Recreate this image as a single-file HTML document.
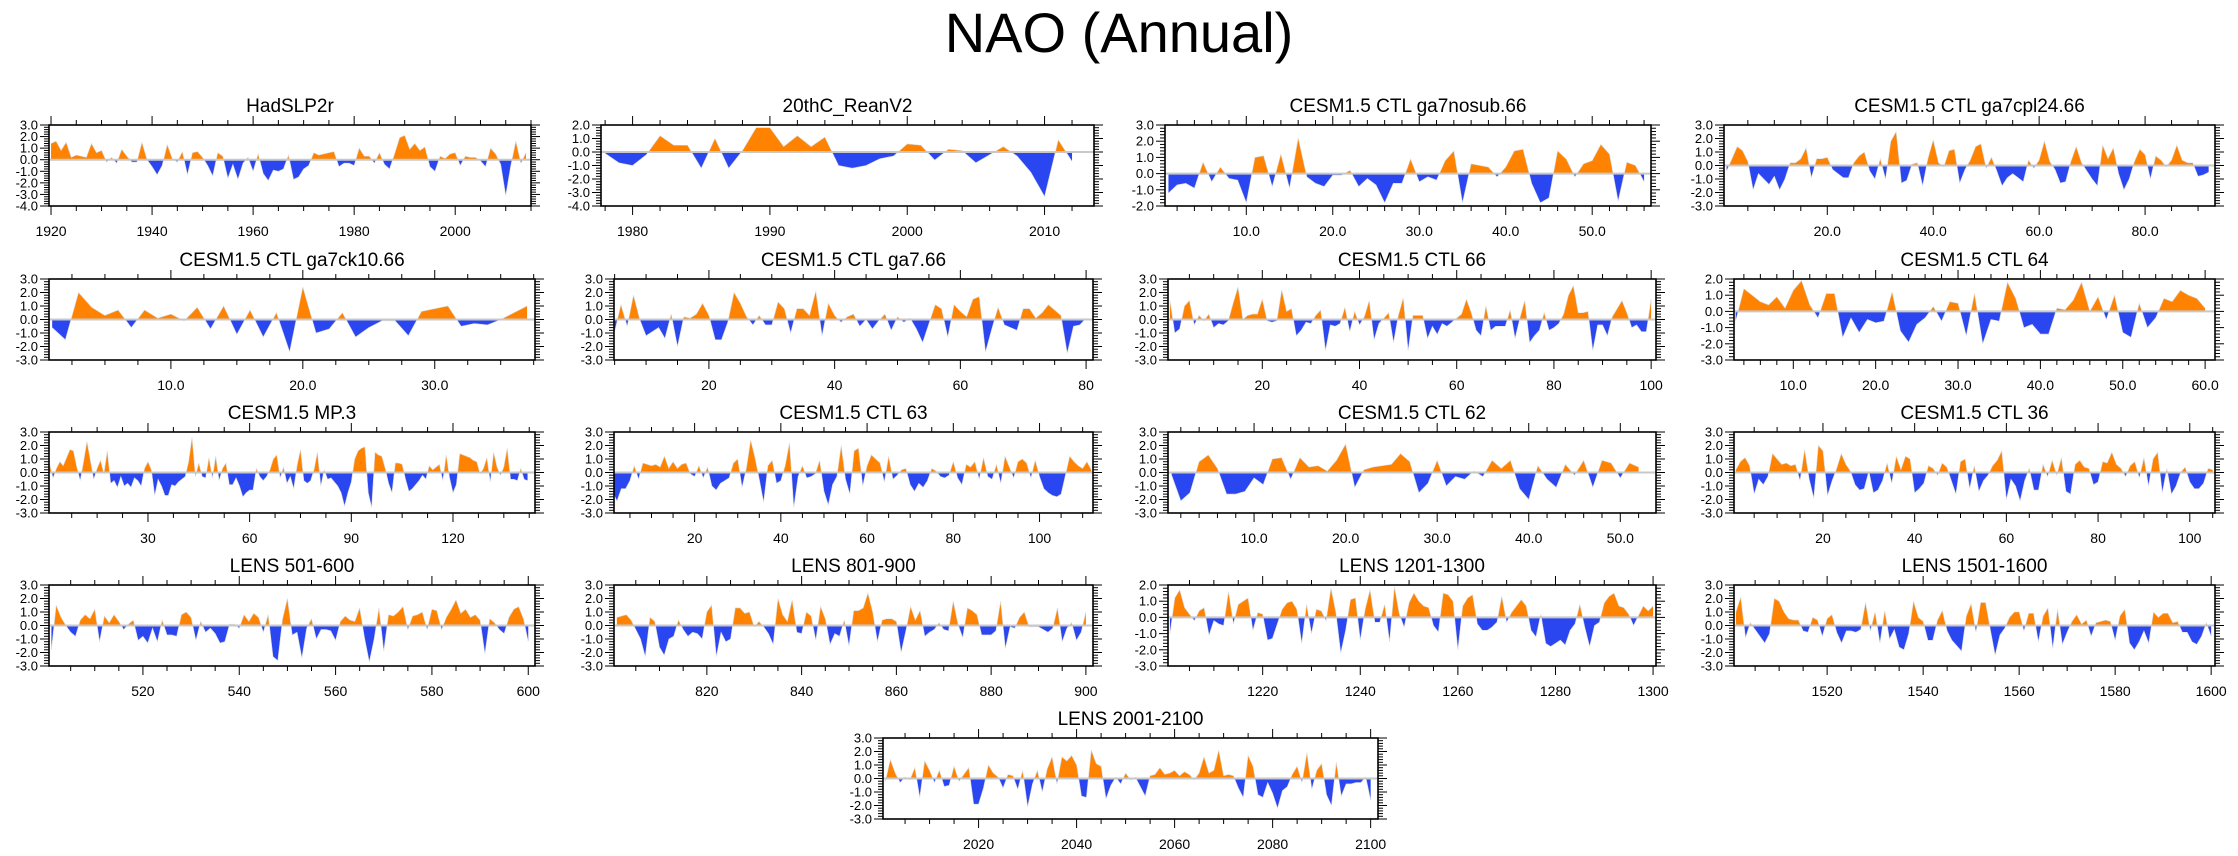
<!DOCTYPE html>
<html>
<head>
<meta charset="utf-8">
<style>
html,body{margin:0;padding:0;background:#fff;}
svg{display:block;font-family:"Liberation Sans",Arial,sans-serif;}
</style>
</head>
<body>
<svg id="chart" width="2238" height="856" viewBox="0 0 2238 856" xmlns="http://www.w3.org/2000/svg">
<rect x="0" y="0" width="2238" height="856" fill="#fff"/>
<text x="1119" y="52" text-anchor="middle" font-size="56" fill="#000">NAO (Annual)</text>
</svg>
<script>
// ---- data ----
const hadslp2rStart = 1920;
const hadslp2rValues = [1.4,1.6,0.8,1.5,0.2,0.4,0.3,0.2,1.4,0.6,0.8,-0.2,0.2,-0.3,0.9,0.3,-0.2,-0.2,1.5,0.0,-0.6,-1.3,-0.5,1.3,0.1,-0.2,0.7,-1.3,0.6,0.7,0.2,-0.5,-1.4,0.6,0.3,-1.6,-0.4,-1.7,-0.3,0.2,-1.0,0.5,-1.2,-1.8,-0.9,-1.0,-0.8,0.4,-1.7,-1.5,-0.8,-0.5,0.6,0.4,0.5,0.6,0.7,-0.6,-0.3,-0.3,-0.5,1.0,0.3,0.3,-0.3,0.6,-0.4,-0.8,0.5,1.9,2.1,0.9,1.4,0.8,1.1,-0.6,-1.0,0.3,0.1,0.5,0.6,-0.5,0.3,0.2,0.2,-0.1,-0.6,1.0,0.5,-0.4,-3.1,-0.5,1.6,-0.3,0.6];
const reanStart = 1978;
const reanValues = [-0.1,-0.8,-1.0,-0.2,1.2,0.5,0.5,-1.2,1.0,-1.2,0.1,1.8,1.8,0.4,1.2,0.4,1.1,-1.0,-1.2,-1.0,-0.5,-0.3,0.6,0.5,-0.6,0.2,0.1,-0.8,-0.2,0.4,-0.3,-1.5,-3.3,0.9,-0.7];
const nosubStart = 1;
const nosubValues = [-1.2,-0.7,-0.6,-0.9,0.7,-0.5,0.4,-0.3,-0.4,-1.8,1.0,1.1,-0.8,1.2,-0.9,2.2,-0.2,-0.6,-0.8,-0.1,-0.1,0.2,-0.8,-0.3,-0.7,-1.8,-0.6,-0.6,0.9,-0.5,-0.2,-0.4,0.8,1.4,-1.8,0.6,0.5,0.4,-0.2,0.4,1.4,1.5,-0.6,-1.8,-1.5,1.4,0.9,-0.2,0.6,0.8,1.8,1.2,-1.7,0.7,0.5,-0.5];
const cpl24Start = 1;
const cpl24Values = [-0.4,0.5,1.4,1.1,0.3,-1.8,-0.6,-1.0,-1.4,-0.8,-1.8,-1.0,0.2,0.2,0.5,1.3,-0.9,0.5,0.5,0.6,-0.3,-0.6,-0.9,-0.9,0.2,0.7,1.0,-0.4,-1.0,0.5,-1.0,1.8,2.5,-1.3,-1.1,0.1,0.2,-1.5,0.5,1.9,0.2,-0.1,1.1,1.2,-1.3,-0.3,0.4,1.4,1.6,-0.2,0.6,-0.4,-1.5,-0.9,-0.6,-0.9,-1.2,0.4,-0.2,0.4,1.8,0.3,-0.3,-1.3,-1.2,0.3,1.4,0.2,-0.4,-1.0,-1.5,1.5,0.5,1.3,-0.6,-1.8,-1.0,0.3,1.2,0.8,-1.0,0.7,0.4,-0.1,0.4,1.5,0.4,0.2,0.2,-0.8,-0.7,-0.5];
const ck10Start = 1;
const ck10Values = [-0.6,-1.5,2.0,0.9,0.3,0.7,-0.6,0.7,0.1,0.4,-0.1,0.9,-0.7,1.0,-1.1,0.7,-1.3,0.5,-2.4,2.4,-1.0,-0.7,0.5,-1.3,-0.6,-0.1,-0.1,-1.2,0.6,0.8,1.0,-0.5,-0.3,-0.4,0.0,0.5,1.0];
const ga7Start = 5;
const ga7Values = [-0.9,1.1,-0.5,1.8,0.0,-1.2,-0.9,-0.6,-1.4,0.4,-2.0,0.2,0.1,0.4,1.2,0.3,-1.5,-1.5,-0.2,2.0,1.2,0.2,-0.4,0.3,-0.4,-0.4,1.3,0.8,-1.0,0.8,0.8,0.3,2.1,-1.2,1.2,0.3,-0.2,0.2,0.4,-0.5,0.0,-0.7,-0.1,0.4,-0.8,0.2,-0.2,0.1,-0.7,-1.7,-0.3,1.1,0.8,-1.3,1.1,0.6,0.2,1.5,1.7,-2.4,-0.7,0.9,-0.4,-0.6,-0.8,0.8,0.8,0.1,0.5,1.1,0.7,0.3,-2.5,-0.5,-0.4,0.1];
const ctl66Start = 1;
const ctl66Values = [1.4,-1.0,-0.7,1.0,1.4,-0.4,0.3,-0.1,0.4,-0.6,-0.3,-0.4,-0.1,1.2,2.4,0.0,0.3,0.4,0.4,1.5,-0.1,-0.2,-0.1,2.2,0.6,0.8,-1.2,-0.8,-0.2,-0.3,0.3,0.7,-2.3,-0.4,-0.5,-0.3,0.9,-0.9,0.6,-0.4,0.2,1.4,-1.5,-0.3,0.1,0.5,-1.7,0.3,1.6,-2.3,0.3,0.3,0.3,-1.4,-0.5,-1.1,-0.3,-0.5,-0.2,0.1,0.4,1.5,0.5,-0.8,-1.2,1.0,-0.8,-0.5,-0.5,-0.5,0.7,-1.4,0.1,1.4,-1.7,-1.2,-0.8,0.5,-0.8,-0.6,-0.3,0.4,1.8,2.5,0.5,0.5,0.6,-2.3,-0.4,-0.4,-1.2,0.2,0.8,1.4,0.5,-0.6,-0.4,-0.9,-0.9,1.5];
const ctl64Start = 3;
const ctl64Values = [-0.6,1.4,1.0,0.6,0.4,0.9,0.2,1.3,1.9,0.4,-0.4,1.1,1.1,-1.6,-0.4,-1.3,-0.5,-0.7,-0.6,1.2,-1.2,-1.9,-0.8,-0.4,0.3,-0.6,0.6,0.5,-1.5,1.1,-2.0,-0.5,-0.6,1.8,0.8,-1.0,-0.8,-1.4,-1.4,0.2,0.1,0.7,1.8,0.0,0.9,-0.5,1.0,-1.3,-1.6,0.5,-1.0,-0.4,0.8,0.6,1.3,1.0,0.8,0.2];
const mp3Start = 1;
const mp3Values = [0.6,-0.4,0.3,0.8,0.5,1.1,1.7,1.6,0.4,-0.6,0.8,2.3,0.9,-0.5,0.3,0.9,-0.1,1.6,-0.8,-0.6,-1.1,-0.3,-1.0,-0.8,-1.1,-0.4,-0.6,-1.0,0.3,0.8,0.2,-1.7,-0.5,-1.0,-1.7,-1.7,-0.9,-1.0,-0.7,-0.5,-0.3,0.8,2.6,-0.3,0.7,-0.3,-0.4,1.1,-0.4,1.2,-0.6,0.3,0.7,-0.9,-0.9,-0.4,-1.0,-1.8,-1.5,-1.3,-1.3,0.3,-0.3,-0.6,-0.3,0.2,1.0,1.3,-0.4,0.4,-0.8,-0.3,-1.2,0.5,1.7,-0.6,-0.8,-0.6,0.2,1.5,-1.0,0.2,-0.5,-0.4,-0.7,-1.0,-1.5,-2.5,-1.5,-0.7,1.0,1.6,1.8,1.9,-1.5,-2.6,1.5,1.3,1.2,0.3,-0.8,-1.5,0.7,0.7,0.6,-0.5,-1.4,-1.2,-0.9,-0.6,-0.2,-0.5,0.5,0.2,0.4,0.6,-0.6,1.3,-0.4,-1.5,-0.9,1.4,1.3,1.2,1.1,0.9,0.8,-0.1,0.3,1.1,-0.7,1.5,0.4,-0.2,0.4,1.8,-0.5,-0.5,-0.6,0.3,-0.5,-0.6];
const ctl63Start = 1;
const ctl63Values = [-1.5,-2.1,-1.2,-1.2,-0.6,0.5,-0.5,0.7,0.6,0.5,0.6,0.4,1.2,0.3,0.8,0.3,0.6,0.7,-0.1,-0.3,0.5,-0.4,0.4,-1.0,-1.3,-0.8,-0.6,-0.4,0.7,1.0,-1.1,0.3,2.4,1.1,-0.5,-2.2,0.5,0.9,-0.8,-0.6,0.5,2.2,-2.6,-0.3,0.5,-0.4,-0.3,-0.1,0.9,-1.4,-2.4,-0.9,-0.3,2.0,-0.5,-1.6,1.6,1.8,-1.0,0.5,1.3,1.0,0.7,-0.7,1.2,-0.5,-0.2,0.2,0.3,-0.9,-1.4,-0.8,-1.1,-0.6,0.3,0.1,-0.3,-0.4,-0.2,0.8,-0.4,-0.9,0.6,0.4,0.8,-0.5,1.1,-0.3,-0.5,0.6,-0.8,1.2,0.4,-0.4,0.8,1.0,0.7,-0.4,0.9,-0.3,-1.2,-1.5,-1.7,-1.8,-1.6,-0.2,1.2,0.8,0.5,0.3,0.8,0.2];
const ctl62Start = 1;
const ctl62Values = [-0.2,-2.1,-1.5,0.8,1.3,0.3,-1.6,-1.6,-1.4,-0.4,-0.9,1.0,1.1,-0.5,1.1,0.4,0.5,0.1,0.9,2.1,-1.1,0.2,0.4,0.5,0.6,1.4,0.8,-1.5,-0.8,0.9,-1.0,-0.3,-0.5,0.1,-0.3,0.9,0.3,0.9,-1.2,-2.0,0.5,-0.5,-1.1,0.6,-0.2,0.9,-1.1,0.9,0.7,-0.4,0.7,0.4];
const ctl36Start = 1;
const ctl36Values = [0.2,0.8,1.1,0.5,-1.6,-0.5,-0.9,-0.3,1.4,1.0,0.6,0.7,0.5,0.6,-0.6,1.7,-0.5,-1.9,2.0,1.6,-1.7,-0.6,0.3,1.4,0.6,0.1,-0.9,-1.3,-1.2,0.1,-1.5,-1.3,-0.6,0.7,-0.8,1.2,0.2,1.2,1.0,-1.5,-1.2,-0.8,0.5,0.3,-0.2,0.7,0.4,-0.6,-1.6,0.8,1.0,-1.2,0.5,-1.4,-0.6,-0.2,0.5,0.9,1.6,-2.0,-0.5,-1.0,-2.1,-0.6,0.3,-1.3,-1.3,0.6,-0.3,0.9,-0.2,1.1,-1.4,-1.6,0.6,0.9,0.4,0.3,-0.9,-0.7,0.8,0.7,1.5,0.6,0.3,-0.3,0.5,0.8,-0.4,1.1,-1.0,1.0,1.5,-1.5,0.3,-1.6,-1.0,0.0,0.4,-0.7,-1.2,-1.2,-0.8,0.3,0.2];
const lens501Start = 501;
const lens501Values = [-1.8,1.5,0.6,0.0,-0.5,-0.8,0.4,0.8,0.5,1.2,-1.2,0.7,0.2,0.8,0.3,-0.3,0.1,0.4,-1.1,-0.8,-1.3,-0.2,-1.2,0.4,-0.7,-0.7,-0.8,0.8,1.0,0.6,-1.1,0.3,-0.5,-0.2,-0.6,-1.3,-1.2,0.1,0.1,-0.2,0.8,0.3,0.9,0.6,-0.5,0.8,-2.3,-2.6,0.5,2.0,-0.7,-0.5,-2.4,-0.2,0.5,-1.0,-0.3,-0.3,-0.4,-1.1,0.3,0.7,0.4,0.3,1.3,-0.9,-2.7,-1.0,1.3,-1.9,0.8,0.7,1.0,1.4,-0.3,0.7,0.8,1.0,-0.3,1.2,1.1,-0.3,0.6,1.2,1.9,0.9,1.2,0.6,0.8,0.4,-2.1,0.5,0.2,-0.3,-0.6,0.6,1.2,1.4,0.5,-1.2];
const lens801Start = 801;
const lens801Values = [0.6,0.7,0.8,0.4,-0.3,-1.0,-2.3,0.6,0.3,-1.6,-2.2,-1.0,-0.8,0.4,-0.3,-0.8,-0.5,-0.6,-1.0,1.0,1.5,-2.3,-0.5,-1.2,-1.0,1.3,1.3,0.9,1.0,-0.1,0.3,-0.1,-0.6,-1.4,2.0,0.8,0.3,1.9,-0.5,-0.6,1.0,0.7,-1.1,1.4,0.5,-1.4,-0.6,-0.8,0.4,-1.5,1.1,1.1,1.3,2.4,1.0,-1.2,0.4,0.5,0.5,0.3,-2.0,-0.4,1.4,0.4,1.1,-0.8,-0.5,-0.3,0.2,-0.3,-0.4,1.8,0.1,-0.9,1.3,1.1,0.8,-0.7,-0.7,-0.7,-0.4,1.8,-1.7,-0.1,-0.2,0.6,1.0,-0.1,-0.1,-0.1,-0.3,-0.5,-0.2,1.3,-1.2,-0.2,0.2,-1.1,-0.5,1.0];
const lens1201Start = 1201;
const lens1201Values = [-1.0,1.2,1.7,0.6,0.2,-0.2,0.4,0.6,-1.1,-0.2,-0.4,-0.5,1.6,-0.4,0.8,1.0,1.2,-0.8,0.3,0.2,-1.4,-1.3,-0.4,0.5,0.9,1.0,0.5,-1.6,0.8,-1.0,0.5,0.4,-0.2,1.8,0.3,-2.2,-0.8,1.1,1.2,-1.4,0.5,1.7,-0.3,-0.3,0.8,-1.5,1.9,0.2,-0.6,0.9,1.5,1.0,0.7,0.6,-0.5,-0.9,1.5,1.4,1.0,-2.0,0.7,1.2,1.4,-0.4,-0.8,-0.8,-0.6,-0.3,1.3,-0.3,0.3,0.7,1.1,0.7,-0.8,-1.2,0.2,-1.6,-1.8,-1.6,-1.4,-1.7,-0.8,-0.4,0.8,-0.6,-1.8,-0.5,-0.3,0.9,1.3,1.5,0.7,0.6,0.2,-0.5,0.1,0.7,0.4,0.7];
const lens1501Start = 1501;
const lens1501Values = [1.0,2.1,-0.9,0.2,-0.3,-0.8,-1.3,-0.6,2.0,1.8,1.0,0.5,0.4,0.4,-0.4,-0.5,0.6,0.4,-0.8,0.5,0.8,-0.5,-1.3,-0.4,-0.4,-0.5,-0.3,1.7,-0.4,1.0,-1.3,1.1,-1.0,-0.3,-1.6,-1.8,-0.6,1.8,0.6,0.3,-1.1,-1.1,0.4,1.1,-0.4,-1.1,-1.5,-1.9,0.7,1.6,-0.5,1.7,1.7,-0.3,-2.2,-0.7,-0.2,0.6,1.0,1.0,-0.4,0.9,0.9,-1.2,0.7,1.3,-1.7,1.2,-1.4,-0.5,0.3,0.8,0.1,0.4,-0.8,0.2,0.3,0.4,0.3,-1.1,0.7,1.2,-1.3,-1.8,-1.2,-0.4,-1.3,1.0,0.6,0.9,0.9,0.2,0.3,-0.5,-0.5,-1.2,-1.4,-0.8,0.2,-0.8];
const lens2001Start = 2001;
const lens2001Values = [-0.2,1.4,0.4,-0.3,0.1,-0.1,0.8,-1.4,1.3,0.6,-0.3,0.6,-0.6,-0.5,0.9,-0.2,0.3,0.8,-1.9,-1.9,-0.7,1.0,0.4,0.1,-0.7,0.3,0.2,-0.8,0.6,-2.1,-0.4,0.6,-1.0,0.7,1.6,-0.4,1.6,1.3,1.7,1.0,-1.3,-1.4,2.1,1.1,0.9,-1.5,-0.5,0.1,-0.4,0.4,-0.1,0.1,-0.6,-1.3,0.2,0.3,0.8,0.3,0.4,0.6,0.2,0.5,0.3,-0.1,0.4,1.6,0.4,0.6,2.1,0.2,0.3,0.2,-0.7,-1.4,1.7,0.9,-1.2,-1.4,-0.3,-1.1,-2.2,-0.9,-0.6,0.3,0.9,-0.3,1.9,-0.8,0.6,1.1,-1.2,-2.0,1.2,-1.3,-0.4,-0.4,-0.3,-0.3,0.1,-1.6];

const panelTitles = ["HadSLP2r","20thC_ReanV2","CESM1.5 CTL ga7nosub.66","CESM1.5 CTL ga7cpl24.66","CESM1.5 CTL ga7ck10.66","CESM1.5 CTL ga7.66","CESM1.5 CTL 66","CESM1.5 CTL 64","CESM1.5 MP.3","CESM1.5 CTL 63","CESM1.5 CTL 62","CESM1.5 CTL 36","LENS 501-600","LENS 801-900","LENS 1201-1300","LENS 1501-1600","LENS 2001-2100"];
const panelStarts = [hadslp2rStart,reanStart,nosubStart,cpl24Start,ck10Start,ga7Start,ctl66Start,ctl64Start,mp3Start,ctl63Start,ctl62Start,ctl36Start,lens501Start,lens801Start,lens1201Start,lens1501Start,lens2001Start];
const panelValues = [hadslp2rValues,reanValues,nosubValues,cpl24Values,ck10Values,ga7Values,ctl66Values,ctl64Values,mp3Values,ctl63Values,ctl62Values,ctl36Values,lens501Values,lens801Values,lens1201Values,lens1501Values,lens2001Values];
const xMajorSteps = [20,10,10,20,10,20,20,10,30,20,10,20,20,20,20,20,20];
const xMinorSteps = [5,2,2,5,2.5,5,5,2,7.5,5,2,5,5,5,5,5,5];
const xLabelDecimals = [0,0,1,1,1,0,0,1,0,0,1,0,0,0,0,0,0];
const yMins = [-4,-4,-2,-3,-3,-3,-3,-3,-3,-3,-3,-3,-3,-3,-3,-3,-3];
const yMaxs = [3,2,3,3,3,3,3,2,3,3,3,3,3,3,2,3,3];

// ---- layout (pixels / axis extents) ----
const layout = [
 {l:49,r:531,t:125,d0:1919.6,d1:2015},
 {l:601,r:1094,t:125,d0:1977.7,d1:2013.6},
 {l:1165,r:1651,t:125,d0:0.6,d1:56.8},
 {l:1724,r:2215,t:125,d0:0.5,d1:93.2},
 {l:49,r:535,t:279,d0:0.76,d1:37.6},
 {l:614,r:1093,t:279,d0:4.9,d1:81.1},
 {l:1168,r:1656,t:279,d0:0.6,d1:101},
 {l:1734,r:2215,t:279,d0:2.8,d1:61.2},
 {l:49,r:535,t:432,d0:0.8,d1:144.2},
 {l:614,r:1093,t:432,d0:1.3,d1:112.4},
 {l:1168,r:1656,t:432,d0:0.6,d1:53.9},
 {l:1734,r:2215,t:432,d0:0.6,d1:105.5},
 {l:49,r:535,t:585,d0:500.5,d1:601.4},
 {l:614,r:1093,t:585,d0:800.4,d1:901.5},
 {l:1168,r:1656,t:585,d0:1200.6,d1:1300.6},
 {l:1734,r:2215,t:585,d0:1500.6,d1:1600.8},
 {l:883,r:1378,t:738,d0:2000.5,d1:2101.5}
];
const PH = 81;
const NS = "http://www.w3.org/2000/svg";
const svg = document.getElementById('chart');
const defs = document.createElementNS(NS,'defs');
svg.appendChild(defs);

function mk(tag, attrs, parent){
  const el = document.createElementNS(NS, tag);
  for (const k in attrs) el.setAttribute(k, attrs[k]);
  parent.appendChild(el);
  return el;
}
function slug(s){return s.toLowerCase().replace(/[^a-z0-9]+/g,'-').replace(/^-|-$/g,'');}

panelTitles.forEach((title, i) => {
  const L = layout[i];
  const ymin = yMins[i], ymax = yMaxs[i];
  const xs = v => L.l + (v - L.d0) / (L.d1 - L.d0) * (L.r - L.l);
  const ys = v => L.t + (ymax - v) / (ymax - ymin) * PH;
  const bottom = L.t + PH;
  const z = ys(0);
  const name = slug(title);

  const g = mk('g', {}, svg);
  
  

  const cpA = mk('clipPath', {id:'ca'+i}, defs);
  mk('rect', {x:L.l, y:L.t, width:L.r-L.l, height:z-L.t}, cpA);
  const cpB = mk('clipPath', {id:'cb'+i}, defs);
  mk('rect', {x:L.l, y:z, width:L.r-L.l, height:bottom-z}, cpB);

  const vals = panelValues[i], st = panelStarts[i];
  let d = '';
  vals.forEach((v, k) => { d += (k ? 'L' : 'M') + xs(st + k).toFixed(2) + ',' + ys(v).toFixed(2); });
  const x0 = xs(st), xn = xs(st + vals.length - 1);
  const area = d + 'L' + xn.toFixed(2) + ',' + z.toFixed(2) + 'L' + x0.toFixed(2) + ',' + z.toFixed(2) + 'Z';

  const pos = mk('path', {d:area, fill:'#ff8300', 'clip-path':'url(#ca'+i+')'}, g);
  
  
  const neg = mk('path', {d:area, fill:'#2a46f0', 'clip-path':'url(#cb'+i+')'}, g);
  
  
  const ln = mk('path', {d:d, fill:'none', stroke:'#d8d8d8', 'stroke-width':0.6}, g);
  
  
  const zl = mk('line', {x1:L.l, x2:L.r, y1:z, y2:z, stroke:'#c8c8c8', 'stroke-width':2}, g);
  
  

  const fr = mk('rect', {x:L.l, y:L.t, width:L.r-L.l, height:PH, fill:'none', stroke:'#000', 'stroke-width':1.6}, g);
  
  

  const yt = mk('g', {stroke:'#000', 'stroke-width':1}, g);
  
  
  for (let k = Math.round(ymin*5); k <= Math.round(ymax*5); k++) {
    const v = k/5, y = ys(v), major = (k % 5 === 0);
    const len = major ? 9 : 5;
    mk('line', {x1:L.l-len, x2:L.l, y1:y, y2:y}, yt);
    mk('line', {x1:L.r, x2:L.r+len, y1:y, y2:y}, yt);
    if (major) {
      const tl = mk('text', {x:L.l-11, y:y+4.5, 'text-anchor':'end', 'font-size':13, fill:'#000', stroke:'none'}, g);
      tl.textContent = v.toFixed(1);
      
      
    }
  }

  const xt = mk('g', {stroke:'#000', 'stroke-width':1}, g);
  
  
  const mi = xMinorSteps[i], ma = xMajorSteps[i];
  for (let k = Math.ceil(L.d0/mi); k*mi <= L.d1 + 1e-9; k++) {
    const v = k*mi, x = xs(v);
    const major = Math.abs(v/ma - Math.round(v/ma)) < 1e-6;
    const len = major ? 9 : 5;
    mk('line', {x1:x, x2:x, y1:L.t-len, y2:L.t}, xt);
    mk('line', {x1:x, x2:x, y1:bottom, y2:bottom+len}, xt);
    if (major) {
      const tl = mk('text', {x:x, y:bottom+30, 'text-anchor':'middle', 'font-size':14, fill:'#000', stroke:'none'}, g);
      tl.textContent = v.toFixed(xLabelDecimals[i]);
      
      
    }
  }

  const tt = mk('text', {x:(L.l+L.r)/2, y:L.t-13, 'text-anchor':'middle', 'font-size':19, fill:'#000'}, g);
  tt.textContent = title;
  
  
});
</script>
</body>
</html>
